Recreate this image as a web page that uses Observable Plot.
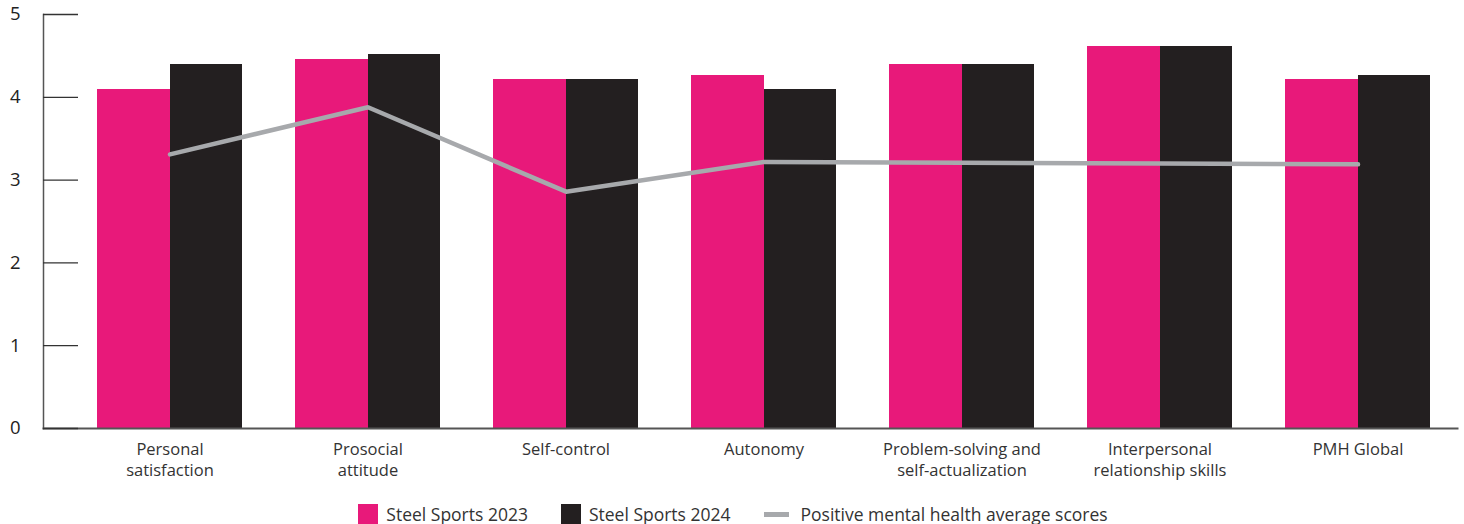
<!DOCTYPE html>
<html>
<head>
<meta charset="utf-8">
<script src="https://cdn.jsdelivr.net/npm/d3@7"></script>
<script src="https://cdn.jsdelivr.net/npm/@observablehq/plot@0.6"></script>
<style>
  html, body { margin: 0; padding: 0; background: #fff; overflow: hidden; }
  body { width: 1464px; height: 524px; font-family: "Open Sans", sans-serif; }
  #legend { display: flex; justify-content: center; align-items: center; height: 28px; font-size: 17.5px; color: #333; padding-left: 2px; }
  .item { display: flex; align-items: center; margin-right: 33px; }
  .item:last-child { margin-right: 0; }
  .sw { width: 20px; height: 20px; margin-right: 8px; }
  .ln { width: 25px; height: 5px; margin-right: 12px; background: #a7a9ac; }
</style>
</head>
<body>
<div id="chart"></div>
<div id="legend"></div>
<script>
const categories = ["Personal satisfaction", "Prosocial attitude", "Self-control", "Autonomy", "Problem-solving and self-actualization", "Interpersonal relationship skills", "PMH Global"];
const tickLabels = ["Personal\nsatisfaction", "Prosocial\nattitude", "Self-control", "Autonomy", "Problem-solving and\nself-actualization", "Interpersonal\nrelationship skills", "PMH Global"];
const series2023 = [4.10, 4.46, 4.21, 4.26, 4.40, 4.61, 4.21];
const series2024 = [4.40, 4.52, 4.21, 4.10, 4.40, 4.61, 4.26];
const pmhAverage = [3.31, 3.88, 2.86, 3.22, 3.21, 3.20, 3.19];
const seriesNames = ["Steel Sports 2023", "Steel Sports 2024", "Positive mental health average scores"];
const colors = ["#e8197a", "#231f20", "#a7a9ac"];
const yTicks = [0, 1, 2, 3, 4, 5];

const rows = categories.map((c, i) => ({c, a: series2023[i], b: series2024[i], m: pmhAverage[i]}));
const labelOf = new Map(categories.map((c, i) => [c, tickLabels[i]]));

const W = 1464, H = 500;
const rangeX = [70, 1457];
const pInner = 0.266;
const step = (rangeX[1] - rangeX[0]) / categories.length;
const half = step * (1 - pInner) / 2;

const chart = Plot.plot({
  width: W, height: H,
  marginLeft: 43, marginRight: 7, marginTop: 14, marginBottom: 72,
  style: {fontFamily: "'Open Sans', sans-serif", color: "#333", background: "#fff"},
  x: {type: "band", domain: categories, range: rangeX, paddingInner: pInner, paddingOuter: pInner / 2},
  y: {domain: [0, 5]},
  marks: [
    Plot.barY(rows, {x: "c", y: "a", fill: colors[0], insetRight: half - 0.5, shapeRendering: "crispEdges"}),
    Plot.barY(rows, {x: "c", y: "b", fill: colors[1], insetLeft: half, shapeRendering: "crispEdges"}),
    Plot.lineY(rows, {x: "c", y: "m", stroke: colors[2], strokeWidth: 4.5, strokeLinejoin: "miter"}),
    Plot.frame({anchor: "left", stroke: "#555", strokeWidth: 1.5}),
    Plot.frame({anchor: "bottom", stroke: "#555", strokeWidth: 2}),
    Plot.axisY({ticks: yTicks, tickSize: -35, text: null, stroke: "#333", strokeWidth: 1.3}),
    Plot.axisY({ticks: yTicks, tickSize: 0, tickPadding: 23, fontSize: 18.5, fill: "#222", label: null, tickFormat: d3.format("d")}),
    Plot.axisX({tickSize: 0, tickPadding: 11, fontSize: 16.5, lineHeight: 1.3, fill: "#333", label: null, tickFormat: d => labelOf.get(d)})
  ]
});
document.getElementById("chart").appendChild(chart);

const legend = document.getElementById("legend");
seriesNames.forEach((name, i) => {
  const it = document.createElement("div");
  it.className = "item";
  const sw = document.createElement("div");
  if (i < 2) { sw.className = "sw"; sw.style.background = colors[i]; }
  else { sw.className = "ln"; }
  it.appendChild(sw);
  const t = document.createElement("span");
  t.textContent = name;
  it.appendChild(t);
  legend.appendChild(it);
});
</script>
</body>
</html>
